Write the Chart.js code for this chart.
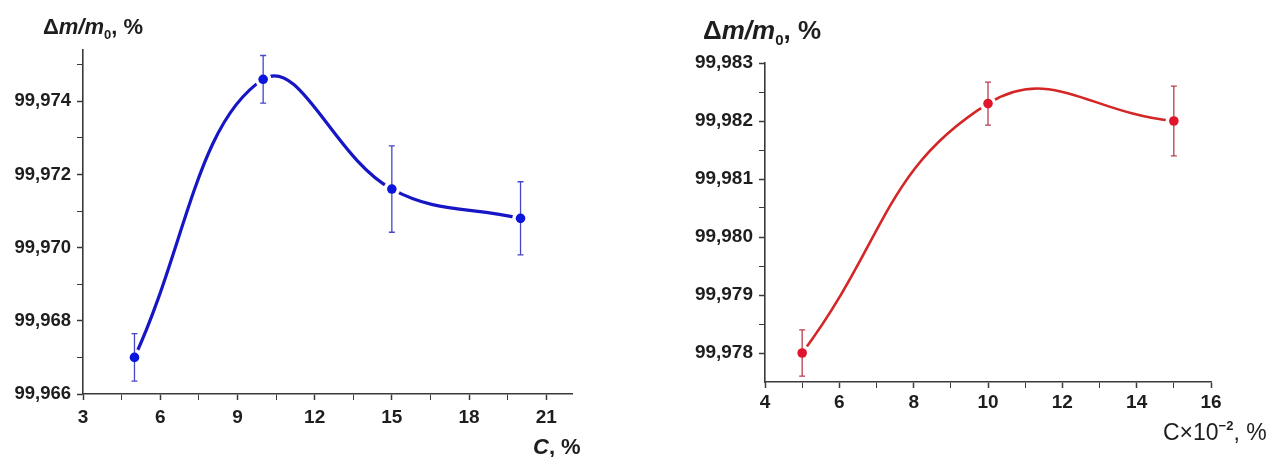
<!DOCTYPE html>
<html><head><meta charset="utf-8">
<script src="https://cdn.jsdelivr.net/npm/chart.js@4.4.1/dist/chart.umd.min.js"></script>
<style>
body{margin:0;background:#fff;width:1275px;height:457px;overflow:hidden;position:relative}
#c1{position:absolute;left:0;top:0}
#c2{position:absolute;left:625px;top:0}
</style></head>
<body>
<canvas id="c1" width="620" height="457"></canvas>
<canvas id="c2" width="650" height="457"></canvas>
<script>
// ---- Left panel data ----
const leftX = [5, 10, 15, 20];
const leftY = [99.9670, 99.9746, 99.9716, 99.9708];
const leftErr = [0.00065, 0.00065, 0.00118, 0.0010];
const leftXMajor = [3, 6, 9, 12, 15, 18, 21];
const leftXMinor = [4.5, 7.5, 10.5, 13.5, 16.5, 19.5];
const leftYMajor = [99.966, 99.968, 99.970, 99.972, 99.974];
const leftYMinor = [99.967, 99.969, 99.971, 99.973, 99.975];

// ---- Right panel data ----
const rightX = [5, 10, 15];
const rightY = [99.9780, 99.9823, 99.9820];
const rightErr = [0.00040, 0.00037, 0.00060];
const rightXMajor = [4, 6, 8, 10, 12, 14, 16];
const rightXMinor = [5, 7, 9, 11, 13, 15];
const rightYMajor = [99.978, 99.979, 99.980, 99.981, 99.982, 99.983];
const rightYMinor = [99.9785, 99.9795, 99.9805, 99.9815, 99.9825];

const FONT = "'Liberation Sans', Arial, sans-serif";
const AXIS = '#3a3a3a';

function isIn(arr, v){ return arr.some(a => Math.abs(a - v) < 1e-7); }

function axisOpts(major, minor, min, max, fontSize, fmt, fitKey, fitVal, pad){
  return {
    type: 'linear', min, max,
    afterBuildTicks: s => { s.ticks = major.concat(minor).sort((a,b)=>a-b).map(v => ({value: v})); },
    afterFit: s => { s[fitKey] = fitVal; },
    grid: {
      drawOnChartArea: false, drawTicks: true, tickLength: 6,
      tickColor: AXIS,
      tickWidth: c => (c.tick && isIn(major, c.tick.value)) ? 1.5 : 1
    },
    border: {display: true, color: AXIS, width: 1.6},
    ticks: {
      autoSkip: false, maxRotation: 0, padding: pad,
      color: '#1e1e1e',
      font: {family: FONT, size: fontSize, weight: 'bold'},
      callback: v => isIn(major, v) ? fmt(v) : ''
    }
  };
}

function errPlugin(xs, ys, errs, color, cap){
  return {
    id: 'errbars',
    afterDatasetDraw(chart, args){
      if (args.index !== 1) return;
      const {ctx, scales: {x, y}} = chart;
      ctx.save();
      ctx.strokeStyle = color; ctx.lineWidth = 1.3;
      xs.forEach((xv, i) => {
        const px = x.getPixelForValue(xv);
        const t = y.getPixelForValue(ys[i] + errs[i]);
        const b = y.getPixelForValue(ys[i] - errs[i]);
        ctx.beginPath();
        ctx.moveTo(px, t); ctx.lineTo(px, b);
        ctx.moveTo(px - cap, t); ctx.lineTo(px + cap, t);
        ctx.moveTo(px - cap, b); ctx.lineTo(px + cap, b);
        ctx.stroke();
      });
      ctx.restore();
    }
  };
}

function drawRich(ctx, x, y, segs){
  let cx = x;
  segs.forEach(s => {
    ctx.font = s.font;
    ctx.fillText(s.t, cx, y + (s.dy || 0));
    cx += ctx.measureText(s.t).width + (s.gap || 0);
  });
}

function titlePlugin(draw){
  return { id: 'titles', afterDraw(chart){ const ctx = chart.ctx; ctx.save(); ctx.fillStyle = '#1e1e1e'; ctx.textBaseline = 'alphabetic'; draw(ctx); ctx.restore(); } };
}

function datasets(xs, ys, lineColor, ptColor, tension, lw, r){
  const pts = xs.map((x, i) => ({x, y: ys[i]}));
  return [
    {data: pts, showLine: true, borderColor: lineColor, borderWidth: lw, tension, pointRadius: 0, order: 3, clip: false},
    {data: pts, showLine: false, pointRadius: r + 3.5, pointBackgroundColor: '#fff', pointBorderWidth: 0, order: 2},
    {data: pts, showLine: false, pointRadius: r, pointBackgroundColor: ptColor, pointBorderWidth: 0, order: 1}
  ];
}

const fmt3 = v => v.toFixed(3).replace('.', ',');
const fmtInt = v => String(Math.round(v));

new Chart(document.getElementById('c1'), {
  type: 'scatter',
  data: {datasets: datasets(leftX, leftY, '#1616c4', '#0a16dc', 0.4, 3.2, 4.8)},
  options: {
    responsive: false, animation: false,
    layout: {padding: {left: 0, top: 50, right: 48, bottom: 0}},
    plugins: {legend: {display: false}, tooltip: {enabled: false}},
    scales: {
      x: axisOpts(leftXMajor, leftXMinor, 3, 22, 19, fmtInt, 'height', 63, 6),
      y: axisOpts(leftYMajor, leftYMinor, 99.966, 99.9754, 18.5, fmt3, 'width', 83, 6)
    }
  },
  plugins: [
    errPlugin(leftX, leftY, leftErr, '#4646c8', 3),
    titlePlugin(ctx => {
      drawRich(ctx, 43, 34, [
        {t: 'Δ', font: `bold 22px ${FONT}`},
        {t: 'm/m', font: `italic bold 22px ${FONT}`},
        {t: '0', font: `bold 13px ${FONT}`, dy: 5},
        {t: ', %', font: `bold 22px ${FONT}`}
      ]);
      drawRich(ctx, 533, 454, [
        {t: 'C', font: `italic bold 22px ${FONT}`},
        {t: ', %', font: `bold 22px ${FONT}`}
      ]);
    })
  ]
});

new Chart(document.getElementById('c2'), {
  type: 'scatter',
  data: {datasets: datasets(rightX, rightY, '#d42626', '#e0142a', 0.45, 2.6, 4.8)},
  options: {
    responsive: false, animation: false,
    layout: {padding: {left: 0, top: 63, right: 64, bottom: 0}},
    plugins: {legend: {display: false}, tooltip: {enabled: false}},
    scales: {
      x: axisOpts(rightXMajor, rightXMinor, 4, 16, 19, fmtInt, 'height', 75, 3),
      y: axisOpts(rightYMajor, rightYMinor, 99.9775, 99.983, 19, fmt3, 'width', 140, 6)
    }
  },
  plugins: [
    errPlugin(rightX, rightY, rightErr, '#b84050', 3),
    titlePlugin(ctx => {
      drawRich(ctx, 78, 39, [
        {t: 'Δ', font: `bold 26px ${FONT}`},
        {t: 'm/m', font: `italic bold 26px ${FONT}`},
        {t: '0', font: `bold 15px ${FONT}`, dy: 6},
        {t: ', %', font: `bold 26px ${FONT}`}
      ]);
      drawRich(ctx, 538, 440, [
        {t: 'C×10', font: `23px ${FONT}`},
        {t: '−2', font: `bold 13px ${FONT}`, dy: -10},
        {t: ', %', font: `23px ${FONT}`}
      ]);
    })
  ]
});
</script>
</body></html>
